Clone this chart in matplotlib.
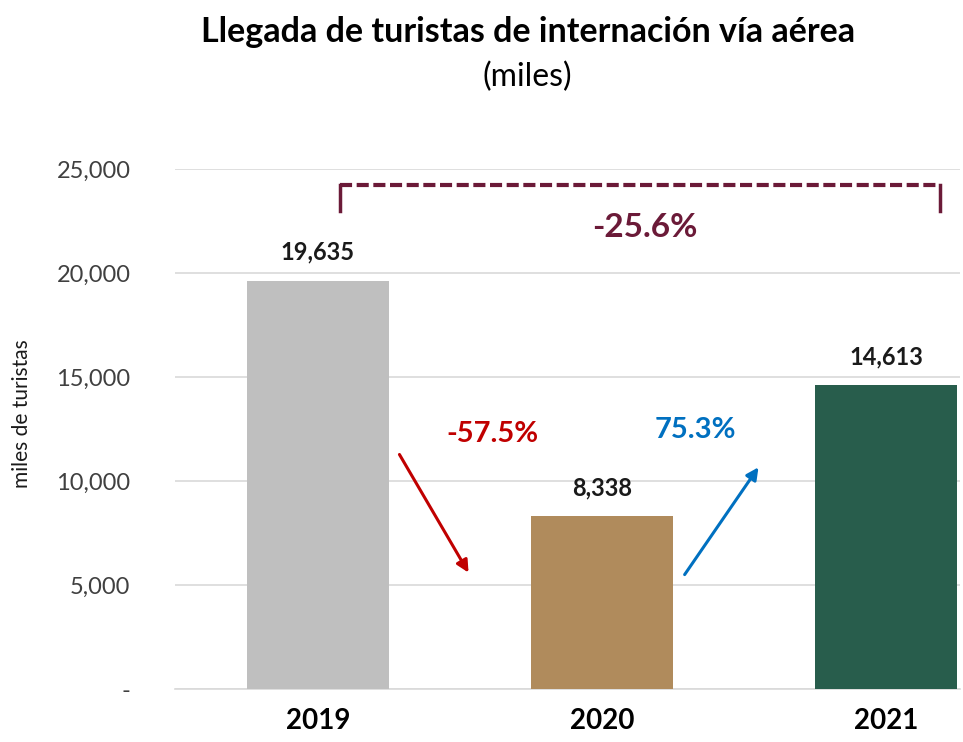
import matplotlib.pyplot as plt
from matplotlib.ticker import FuncFormatter

plt.rcParams['font.family'] = ['Lato', 'DejaVu Sans']

# Data
years = ['2019', '2020', '2021']
arrivals = [19635, 8338, 14613]
bar_colors = ['#BFBFBF', '#B08B5C', '#285D4C']
change_down = '-57.5%'
change_up = '75.3%'
change_total = '-25.6%'

fig = plt.figure(figsize=(9.63, 7.42), dpi=100)
ax = fig.add_axes([0.1817, 0.0714, 0.8153, 0.7009])

x = range(len(years))
ax.bar(x, arrivals, width=0.5, color=bar_colors, zorder=3)

# value labels above bars
for xi, v in zip(x, arrivals):
    ax.text(xi, v + 800, f'{v:,}', ha='center', va='bottom',
            fontsize=17, fontweight='bold', color='#1a1a1a')

ax.set_xlim(-0.503, 2.26)
ax.set_ylim(0, 25000)
ax.set_yticks(range(0, 25001, 5000))
ax.yaxis.set_major_formatter(FuncFormatter(lambda v, p: '-' if v == 0 else f'{int(v):,}'))
ax.set_xticks(list(x))
ax.set_xticklabels(years, fontsize=20, fontweight='bold')
ax.tick_params(axis='y', length=0, labelsize=17, labelcolor='#404040', pad=32)
ax.tick_params(axis='x', length=0, pad=14)
ax.grid(axis='y', color='#D9D9D9', lw=1.2, zorder=0)
for s in ['top', 'right', 'left']:
    ax.spines[s].set_visible(False)
ax.spines['bottom'].set_color('#D9D9D9')
ax.spines['bottom'].set_linewidth(1.2)
ax.set_ylabel('miles de turistas', fontsize=15, color='#1a1a1a', labelpad=14)
ax.yaxis.set_label_coords(-0.182, 0.53)

# bracket for total change
bc = '#6B1A38'
ax.plot([0.077, 2.19], [24230, 24230], color=bc, lw=3, ls=(0, (2.9, 1.1)), solid_capstyle='butt')
ax.plot([0.077, 0.077], [23000, 24230], color=bc, lw=2.5)
ax.plot([2.19, 2.19], [23000, 24230], color=bc, lw=2.5)
ax.text(1.15, 22200, change_total, ha='center', va='center', fontsize=24,
        fontweight='bold', color=bc)

# arrows for year-on-year change
ax.annotate('', xy=(0.535, 5480), xytext=(0.282, 11390),
            arrowprops=dict(arrowstyle='-|>', color='#C00000', lw=2.2, mutation_scale=18))
ax.annotate('', xy=(1.556, 10770), xytext=(1.285, 5390),
            arrowprops=dict(arrowstyle='-|>', color='#0070C0', lw=2.2, mutation_scale=18))
ax.text(0.613, 12260, change_down, ha='center', va='center', fontsize=21,
        fontweight='bold', color='#C00000')
ax.text(1.327, 12450, change_up, ha='center', va='center', fontsize=21,
        fontweight='bold', color='#0070C0')

fig.text(0.548, 0.957, 'Llegada de turistas de internación vía aérea', ha='center',
         va='center', fontsize=24.5, fontweight='bold')
fig.text(0.548, 0.896, '(miles)', ha='center', va='center', fontsize=23)

fig.savefig('out.png', dpi=100)
